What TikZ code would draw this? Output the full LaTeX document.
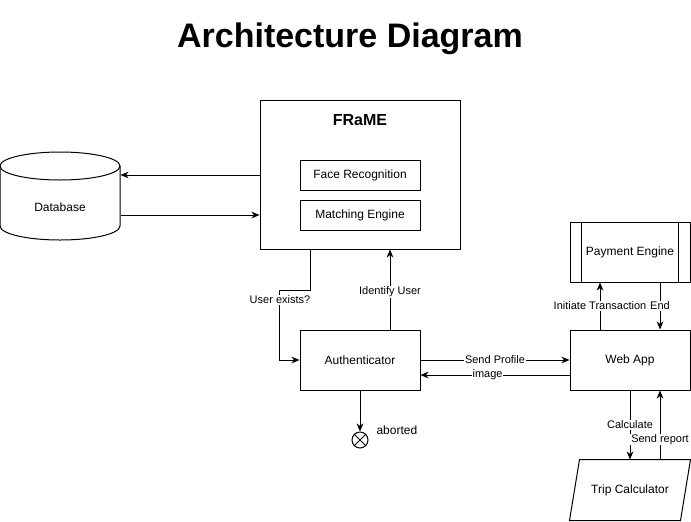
\documentclass[tikz,border=0pt]{standalone}
\usepackage{fontspec}
\setmainfont{Liberation Sans}
\usetikzlibrary{arrows.meta,calc}
\begin{document}
\begin{tikzpicture}[x=0.75pt,y=-0.75pt,
  line width=0.75pt,
  >={Stealth[length=6pt,width=5pt,inset=1.8pt]},
  box/.style={draw,rectangle,minimum width=90pt,minimum height=45pt,inner sep=0pt,font=\fontsize{9}{11}\selectfont},
  sub/.style={draw,rectangle,minimum width=90pt,minimum height=22.5pt,inner sep=0pt,font=\fontsize{9}{11}\selectfont},
  lbl/.style={fill=white,inner sep=0.6pt,font=\fontsize{8.25}{10}\selectfont},
  plain/.style={inner sep=0pt,font=\fontsize{9}{11}\selectfont}]
\useasboundingbox (0,0) rectangle (691,521);

\node[font=\bfseries\fontsize{25.5}{30}\selectfont] (title) at (350,39) {Architecture Diagram};

% FRaME container
\node[draw,rectangle,minimum width=150pt,minimum height=111.75pt,inner sep=0pt] (frame) at (360,174.5) {};
\node[font=\bfseries\fontsize{12}{14}\selectfont] (frametitle) at (360,120) {FRaME};
\node[sub] (face) at (360,175) {Face Recognition};
\node[sub] (match) at (360,215) {Matching Engine};

% Database cylinder
\draw[fill=white] (0,166) -- (0,226) arc[start angle=180,end angle=0,x radius=60,y radius=14] -- (120,166);
\draw[fill=white] (60,166) ellipse[x radius=60,y radius=14];
\node[plain,minimum width=90pt,minimum height=20pt] (db) at (60,207) {Database};

% other nodes
\node[box] (auth) at (360,360) {Authenticator};
\node[box] (web) at (630,360) {Web App};
\node[box] (pay) at (630,252) {Payment Engine};
\draw ($(pay.north west)+(12,0)$) -- ($(pay.south west)+(12,0)$);
\draw ($(pay.north east)+(-12,0)$) -- ($(pay.south east)+(-12,0)$);
\node[plain,minimum width=90pt,minimum height=45pt] (trip) at (630,490) {Trip Calculator};
\draw ($(trip.north west)+(10,0)$) -- (trip.north east) -- ($(trip.south east)+(-10,0)$) -- (trip.south west) -- cycle;
\node[draw,circle,minimum size=12pt,inner sep=0pt] (abort) at (360,440) {};
\draw (abort.north west) -- (abort.south east);
\draw (abort.north east) -- (abort.south west);
\node[plain,anchor=west] (abortlbl) at (376,430) {aborted};

% connectors
\draw[->] (frame.west |- face) -- (db.east |- face);
\draw[->] (db.east |- match) -- (frame.west |- match);
\draw[->] ($(frame.south)+(-50,0)$) -- ++(0,41) -| ($(auth.west)+(-20,0)$) -- (auth.west);
\node[lbl] (uelbl) at (280,300) {User exists?};
\draw[->] ($(auth.north)+(30,0)$) -- ($(frame.south)+(30,0)$) node[lbl,pos=0.47] {Identify User};
\draw[->] (auth.east) -- (web.west) node[lbl,pos=0.5] {Send Profile};
\draw[->] ($(web.west)+(0,15)$) -- ($(auth.east)+(0,15)$) node[lbl,pos=0.55] {image};
\draw[->] ($(web.north)+(-30,0)$) -- ($(pay.south)+(-30,0)$) node[lbl,pos=0.5] {Initiate Transaction};
\draw[->] ($(pay.south)+(30,0)$) -- ($(web.north)+(30,0)$) node[lbl,pos=0.5] {End};
\draw[->] (web.south) -- (trip.north) node[lbl,pos=0.5] {Calculate};
\draw[->] ($(trip.north)+(30,0)$) -- ($(web.south)+(30,0)$) node[lbl,pos=0.29] {Send report};
\draw[->] (auth.south) -- (abort.north);
\end{tikzpicture}
\end{document}
